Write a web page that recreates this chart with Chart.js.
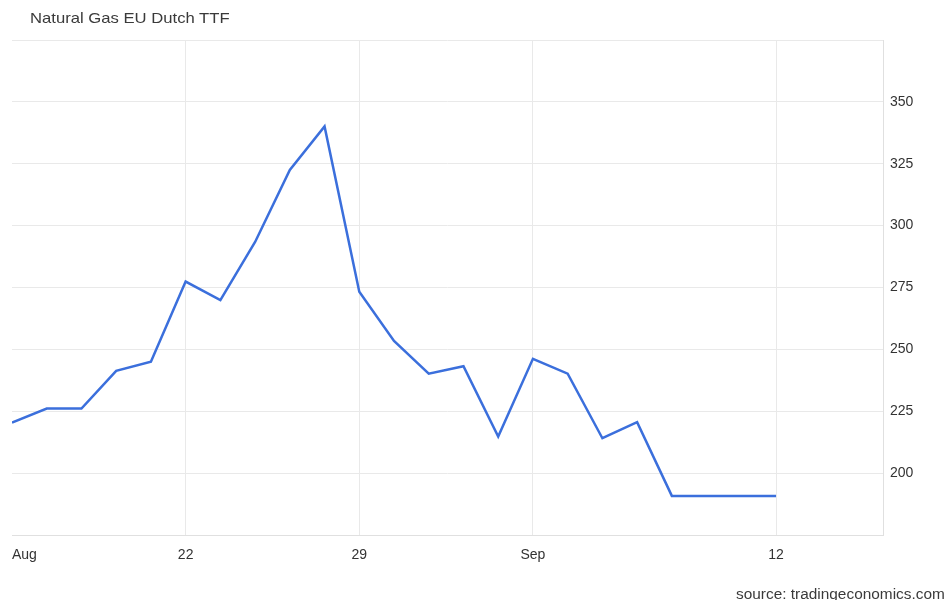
<!DOCTYPE html>
<html><head><meta charset="utf-8">
<script src="https://cdn.jsdelivr.net/npm/chart.js@4/dist/chart.umd.min.js"></script>
<style>
html,body{margin:0;padding:0;background:#fff;}
#wrap{position:relative;width:947px;height:600px;overflow:hidden;background:#fff;}
canvas{position:absolute;left:0;top:0;}
#title{position:absolute;left:30px;top:9px;font:15px "Liberation Sans",Arial,sans-serif;color:#3a3a3a;transform:scaleX(1.11);transform-origin:0 0;white-space:nowrap;}
#source{position:absolute;left:736px;top:586px;font:14px "Liberation Sans",Arial,sans-serif;color:#3a3a3a;transform:scaleX(1.1);transform-origin:0 0;white-space:nowrap;}
</style></head><body>
<div id="wrap">
<canvas id="c" width="947" height="600"></canvas>
<div id="title">Natural Gas EU Dutch TTF</div>
<div id="source">source: tradingeconomics.com</div>
</div>
<script>
const dates = ['Aug 15','Aug 16','Aug 17','Aug 18','Aug 19','Aug 22','Aug 23','Aug 24','Aug 25','Aug 26',
  'Aug 29','Aug 30','Aug 31','Sep 1','Sep 2','Sep 5','Sep 6','Sep 7','Sep 8','Sep 9','Sep 10','Sep 11','Sep 12'];
const prices = [220.4,226.1,226.1,241.3,245.0,277.4,269.9,293.4,322.5,340.1,
  273.3,253.4,240.2,243.2,214.8,246.2,240.2,214.1,220.6,190.8,190.8,190.8,190.8];
const tickIndex = [0,5,10,15,22];
const tickText = ['Aug','22','29','Sep','12'];
const yMin = 175, yMax = 375, yStep = 25;
const xMax = 25.08;

const points = prices.map((v,i)=>({x:i,y:v}));
const gridCol = '#e9e9e9';

new Chart(document.getElementById('c'), {
  type: 'line',
  data: { labels: dates, datasets: [{ data: points, borderColor: '#3b6fdc', borderWidth: 2.5,
    pointRadius: 0, tension: 0, fill: false, borderJoinStyle: 'miter' }] },
  options: {
    responsive: false, animation: false,
    layout: { padding: { left: 12, top: 40, right: 0, bottom: 0 } },
    plugins: { legend: { display: false }, tooltip: { enabled: false }, title: { display: false } },
    scales: {
      x: {
        type: 'linear', min: 0, max: xMax,
        afterBuildTicks: s => { s.ticks = tickIndex.concat([xMax]).map(v => ({ value: v })); },
        afterFit: s => { s.height = 65; },
        ticks: {
          autoSkip: false, maxRotation: 0, align: 'inner', padding: 12,
          color: '#333', font: { family: '"Liberation Sans", Arial, sans-serif', size: 14 },
          callback: v => { const k = tickIndex.indexOf(v); return k >= 0 ? tickText[k] : ''; }
        },
        grid: { drawTicks: false, color: c => (c.tick && c.tick.value === 0) ? 'rgba(0,0,0,0)' : gridCol },
        border: { color: '#e0e0e0' }
      },
      y: {
        position: 'right', min: yMin, max: yMax,
        afterFit: s => { s.width = 64; },
        ticks: {
          stepSize: yStep, padding: 7,
          color: '#333', font: { family: '"Liberation Sans", Arial, sans-serif', size: 14 },
          callback: v => (v === yMin || v === yMax) ? '' : v
        },
        grid: { drawTicks: false, color: gridCol },
        border: { color: '#e0e0e0' }
      }
    }
  }
});
</script>
</body></html>
